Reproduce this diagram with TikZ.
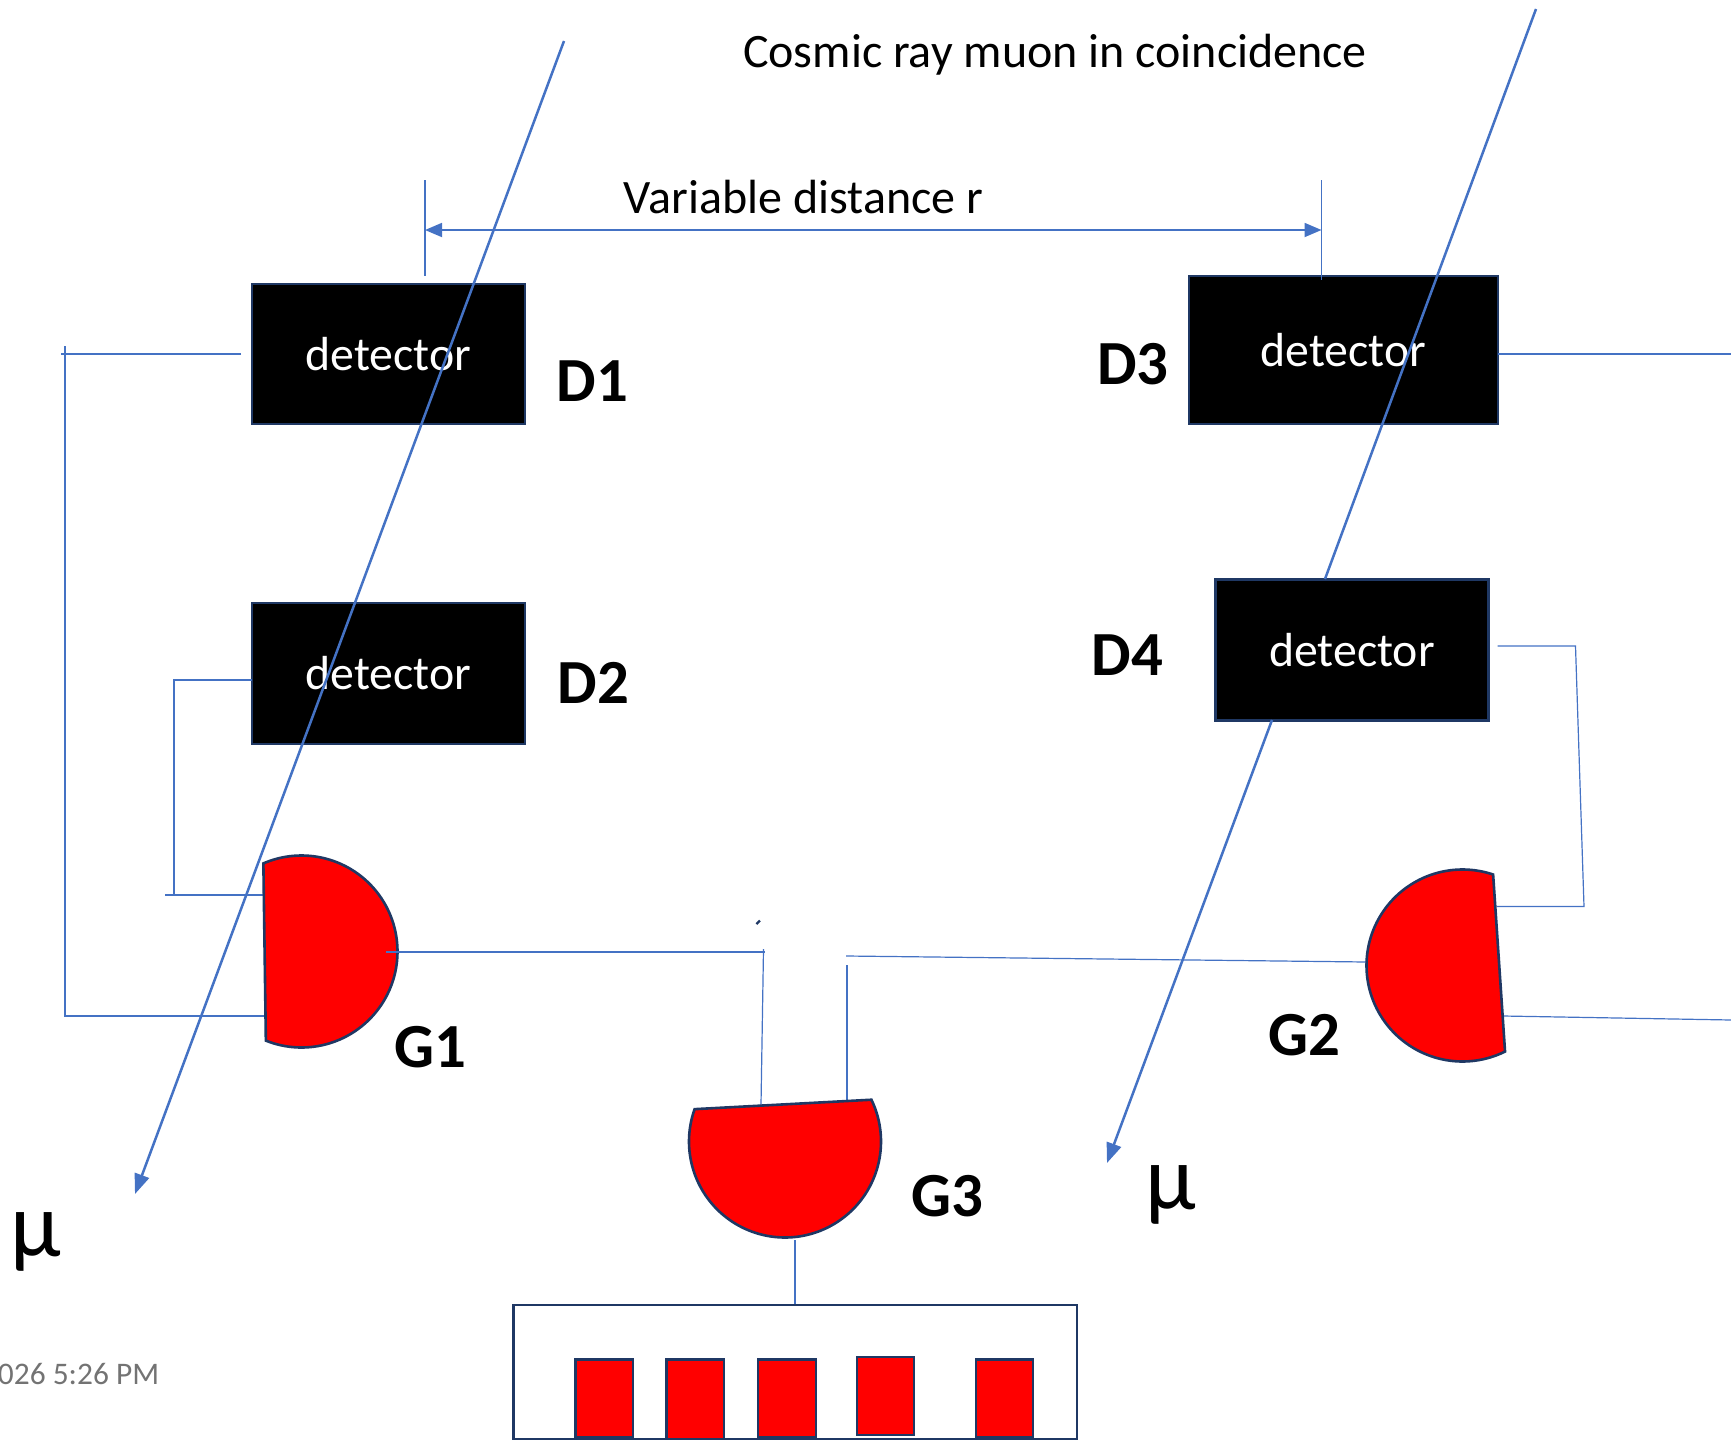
\documentclass[tikz,border=0pt]{standalone}
\usepackage{fontspec}
\setmainfont{Carlito}
\usetikzlibrary{arrows.meta}
\definecolor{wireblue}{HTML}{4472C4}
\definecolor{edgenavy}{HTML}{1F3864}
\tikzset{
  wire/.style={draw=wireblue,line width=0.6pt},
  muon/.style={draw=wireblue,line width=1.25pt},
  tipped/.style={-{Triangle[length=10pt,width=7.5pt]}},
  dim/.style={draw=wireblue,line width=0.9pt,{Triangle[length=8.5pt,width=7pt]}-{Triangle[length=8.5pt,width=7pt]}},
  detbox/.style={draw=edgenavy,line width=1.2pt,fill=black,text=white,inner sep=0pt,outer sep=0pt,font=\fontsize{23.9}{26}\selectfont},
  gatefill/.style={draw=edgenavy,line width=1.3pt,fill=red,line join=miter},
  cell/.style={draw=edgenavy,line width=1.2pt,fill=red},
  tag/.style={font=\fontsize{31.4}{34}\bfseries\selectfont,inner sep=0pt},
  note/.style={font=\fontsize{24}{28}\selectfont,inner sep=0pt},
  mu/.style={font=\fontsize{46}{50}\selectfont,inner sep=0pt}
}
\begin{document}
\begin{tikzpicture}[x=0.5pt,y=-0.5pt]
\useasboundingbox (0,0) rectangle (1731,1440);
% detector boxes
\node[detbox,minimum width=136.5pt,minimum height=70pt] (D1) at (388.5,354) {detector};
\node[detbox,minimum width=136.5pt,minimum height=70.5pt] (D2) at (388.5,673.5) {detector};
\node[detbox,minimum width=154.5pt,minimum height=74pt] (D3) at (1343.5,350) {detector};
\node[detbox,minimum width=136.5pt,minimum height=70.5pt] (D4) at (1352,650) {detector};
% free ends
\coordinate (m1a) at (564,41);
\coordinate (m1b) at (135,1194);
\coordinate (m2a) at (1536,9);
\coordinate (m2b) at (1325,579);
\coordinate (m2c) at (1272,720);
\coordinate (m2d) at (1107,1163);
\coordinate (t1a) at (425,180);
\coordinate (t1b) at (425,276);
\coordinate (t2a) at (1321.5,180);
\coordinate (t2b) at (1321.5,280);
\coordinate (dl) at (425,230);
\coordinate (dr) at (1321.5,230);
\coordinate (a1) at (241,354);
\coordinate (a2) at (65,346);
\coordinate (a2b) at (61,354);
\coordinate (a3) at (65,1016);
\coordinate (a4) at (264,1016);
\coordinate (b1) at (252,680);
\coordinate (b2) at (174,680);
\coordinate (b3) at (174,895);
\coordinate (b4) at (165,895);
\coordinate (b5) at (263,895);
\coordinate (c1) at (386,952);
\coordinate (c2) at (765,952);
\coordinate (c3) at (763.5,949);
\coordinate (c4) at (761,1105);
\coordinate (e1) at (846,956);
\coordinate (e2) at (1366,962);
\coordinate (f1) at (847,965);
\coordinate (f2) at (847,1101);
\coordinate (g1) at (1497.5,646);
\coordinate (g2) at (1575.5,646);
\coordinate (g3) at (1584,906.5);
\coordinate (g4) at (1496.5,906.5);
\coordinate (h1) at (1498,354);
\coordinate (h2) at (1731,354);
\coordinate (i1) at (1503,1016);
\coordinate (i2) at (1731,1020);
\coordinate (j1) at (795,1240);
\coordinate (j2) at (795,1305);
\coordinate (k1) at (756.5,924);
\coordinate (k2) at (760,920.5);
% wires
\draw[wire] (a1) -- (a2b);
\draw[wire] (a2) -- (a3) -- (a4);
\draw[wire] (b1) -- (b2) -- (b3);
\draw[wire] (b4) -- (b5);
\draw[wire] (h1) -- (h2);
\draw[wire] (e1) -- (e2);
\draw[wire] (f1) -- (f2);
\draw[wire] (c3) -- (c4);
\draw[wire] (g1) -- (g2) -- (g3) -- (g4);
\draw[wire] (i1) -- (i2);
\draw[wire] (j1) -- (j2);
% gates
\draw[gatefill] plot[domain=-113.4:111.8,samples=80,smooth] ({301.5+96*cos(\x)},{951.5+96*sin(\x)}) -- cycle;
\draw[gatefill] plot[domain=-71.4:-296.3,samples=80,smooth] ({1462.5+96*cos(\x)},{965.5+96*sin(\x)}) -- cycle;
\draw[gatefill] plot[domain=-25.8:199.7,samples=80,smooth] ({785+96*cos(\x)},{1141.5+96*sin(\x)}) -- cycle;
\draw[wire] (c1) -- (c2);
\draw[draw=edgenavy,line width=1.2pt] (k1) -- (k2);
% counter
\draw[draw=edgenavy,line width=1.2pt,fill=white] (513.5,1305) rectangle (1077,1439);
\draw[cell] (575.5,1359.5) rectangle (633,1437);
\draw[cell] (666.5,1359.5) rectangle (724,1439);
\draw[cell] (758,1359.5) rectangle (816,1437);
\draw[cell] (857,1357) rectangle (914,1435);
\draw[cell] (976,1359.5) rectangle (1033,1437);
% muons and dimension
\draw[muon,tipped] (m1a) -- (m1b);
\draw[muon] (m2a) -- (m2b);
\draw[muon,tipped] (m2c) -- (m2d);
\draw[wire] (t1a) -- (t1b);
\draw[wire] (t2a) -- (t2b);
\draw[dim] (dl) -- (dr);
% labels
\node[note] (title) at (1055,54.5) {Cosmic ray muon in coincidence};
\node[note] (dist) at (803.5,197.5) {Variable distance r};
\node[tag] (L1) at (592.5,381) {D1};
\node[tag] (L2) at (593.5,683) {D2};
\node[tag] (L3) at (1133,364) {D3};
\node[tag] (L4) at (1127.5,655) {D4};
\node[tag] (LG1) at (430,1047) {G1};
\node[tag] (LG2) at (1304.5,1035) {G2};
\node[tag] (LG3) at (947,1196) {G3};
\node[mu] (mu1) at (36,1242) {μ};
\node[mu] (mu2) at (1170.5,1195) {μ};
\node[anchor=east,inner sep=0pt,text=gray!90!black,font=\fontsize{15.7}{18}\selectfont] (stamp) at (159.5,1374) {026 5:26 PM};
\end{tikzpicture}
\end{document}
